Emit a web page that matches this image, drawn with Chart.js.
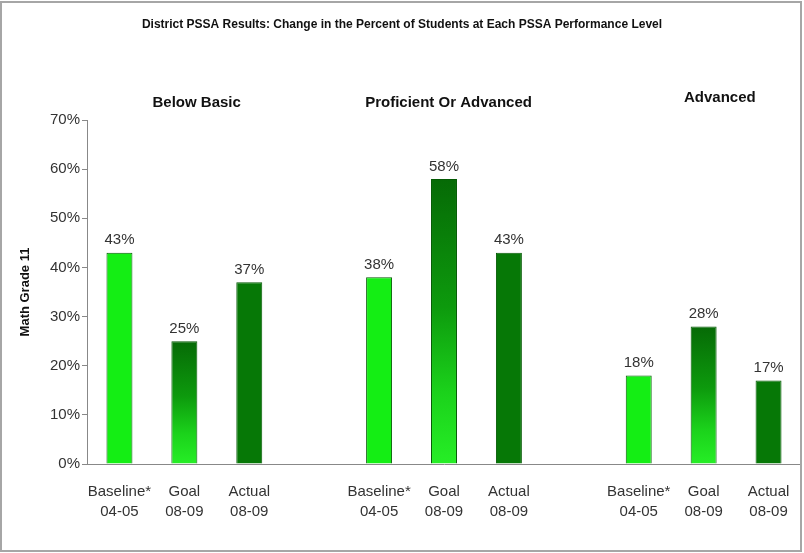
<!DOCTYPE html>
<html>
<head>
<meta charset="utf-8">
<script src="https://cdn.jsdelivr.net/npm/chart.js@4"></script>
<style>
  html, body { margin: 0; padding: 0; background: #fff; }
  #wrap { width: 804px; height: 553px; position: relative; }
</style>
</head>
<body>
<div id="wrap"><canvas id="pssaChart"></canvas></div>
<script>
// --- data ---
const categories = [
    ['Baseline*', '04-05'], ['Goal', '08-09'], ['Actual', '08-09'], '',
    ['Baseline*', '04-05'], ['Goal', '08-09'], ['Actual', '08-09'], '',
    ['Baseline*', '04-05'], ['Goal', '08-09'], ['Actual', '08-09']
];
const percents = [43, 25, 37, null, 38, 58, 43, null, 18, 28, 17];
const barKinds = ['base', 'goal', 'actual', '', 'base', 'goal', 'actual', '', 'base', 'goal', 'actual'];
const yTicks = [0, 10, 20, 30, 40, 50, 60, 70];
const groupNames = ['Below Basic', 'Proficient Or Advanced', 'Advanced'];
const chartTitle = 'District PSSA Results: Change in the Percent of Students at Each PSSA Performance Level';
const axisTitle = 'Math Grade 11';

const FONT = "'Liberation Sans', Arial, sans-serif";

// fill for each bar; goal bars fade from dark (top) to bright (bottom)
function barFill(ctx) {
    const kind = barKinds[ctx.dataIndex];
    if (kind === 'base') return '#14ee14';
    if (kind === 'actual') return '#067806';
    const chart = ctx.chart;
    const y = chart.scales.y;
    if (!y || percents[ctx.dataIndex] == null) return '#0a8a0a';
    const top = y.getPixelForValue(percents[ctx.dataIndex]);
    const bottom = y.getPixelForValue(0);
    const g = chart.ctx.createLinearGradient(0, top, 0, bottom);
    g.addColorStop(0, '#066a06');
    g.addColorStop(0.45, '#0d9a0d');
    g.addColorStop(0.75, '#1bd21b');
    g.addColorStop(1, '#26ee26');
    return g;
}

// outer frame + headings
const framePlugin = {
    id: 'frame',
    afterDraw(chart) {
        const c = chart.ctx;
        const x = chart.scales.x;
        c.save();
        c.strokeStyle = '#a6a6a6';
        c.lineWidth = 2;
        c.strokeRect(1, 2, 800, 549);

        c.fillStyle = '#111';
        c.textAlign = 'center';
        c.textBaseline = 'middle';
        c.font = 'bold 12px ' + FONT;
        c.fillText(chartTitle, 402, 25);

        // group headings sit over the middle of each group
        const spots = [[1.19, 103], [5.07, 103], [9.25, 98]];
        c.font = 'bold 15px ' + FONT;
        groupNames.forEach((name, i) => {
            c.fillText(name, x.getPixelForValue(spots[i][0]), spots[i][1]);
        });
        c.restore();
    }
};

// value labels above the bars
const valueLabels = {
    id: 'valueLabels',
    afterDatasetsDraw(chart) {
        const c = chart.ctx;
        const meta = chart.getDatasetMeta(0);
        c.save();
        c.fillStyle = '#333';
        c.font = '15px ' + FONT;
        c.textAlign = 'center';
        c.textBaseline = 'bottom';
        meta.data.forEach((bar, i) => {
            if (percents[i] == null) return;
            c.fillText(percents[i] + '%', bar.x, bar.y - 5);
        });
        c.restore();
    }
};

new Chart(document.getElementById('pssaChart'), {
    type: 'bar',
    data: {
        labels: categories,
        datasets: [{
            data: percents,
            backgroundColor: barFill,
            borderColor: '#045a04',
            borderWidth: 1,
            barPercentage: 0.4,
            categoryPercentage: 1
        }]
    },
    options: {
        responsive: true,
        maintainAspectRatio: false,
        animation: false,
        layout: { padding: { top: 120, right: 3, left: 0, bottom: 0 } },
        plugins: {
            legend: { display: false },
            tooltip: { enabled: false }
        },
        scales: {
            x: {
                grid: { display: true, drawOnChartArea: false, drawTicks: false },
                border: { color: '#888', width: 1 },
                ticks: {
                    color: '#333',
                    padding: 18,
                    maxRotation: 0,
                    autoSkip: false,
                    font: { family: FONT, size: 15, lineHeight: 1.33 }
                },
                afterFit(scale) {
                    scale.height = 89;
                    // labels sit inside their slots, no extra side room needed
                    scale.paddingLeft = 0;
                    scale.paddingRight = 0;
                }
            },
            y: {
                min: 0,
                max: 70,
                afterBuildTicks(scale) { scale.ticks = yTicks.map(v => ({ value: v })); },
                grid: { drawOnChartArea: false, drawTicks: true, tickLength: 5, color: '#888' },
                border: { color: '#888', width: 1 },
                ticks: {
                    color: '#333',
                    padding: 2,
                    font: { family: FONT, size: 15 },
                    callback: v => v + '%'
                },
                title: {
                    display: true,
                    text: axisTitle,
                    color: '#111',
                    font: { family: FONT, size: 13, weight: 'bold' },
                    padding: { top: 18, bottom: 0 }
                },
                afterFit(scale) { scale.width = 87; }
            }
        }
    },
    plugins: [framePlugin, valueLabels]
});
</script>
</body>
</html>
